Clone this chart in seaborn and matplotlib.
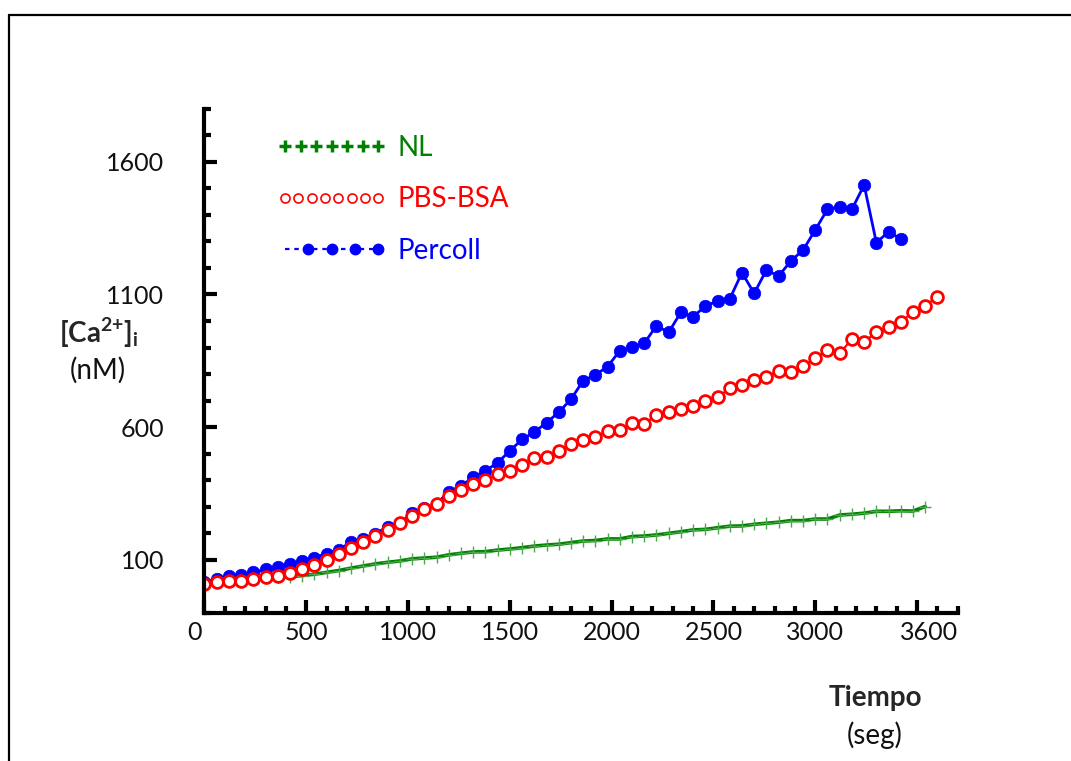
import numpy as np
import pandas as pd
import matplotlib
matplotlib.use("Agg")
import matplotlib.pyplot as plt
import seaborn as sns
from matplotlib.lines import Line2D
from matplotlib.legend_handler import HandlerLine2D
from matplotlib.ticker import FixedLocator, MultipleLocator
from matplotlib.transforms import ScaledTranslation

# sample times (s), one reading per minute
tiempo = [0, 60, 120, 180, 240, 300, 360, 420, 480, 540,
          600, 660, 720, 780, 840, 900, 960, 1020, 1080, 1140,
          1200, 1260, 1320, 1380, 1440, 1500, 1560, 1620, 1680, 1740,
          1800, 1860, 1920, 1980, 2040, 2100, 2160, 2220, 2280, 2340,
          2400, 2460, 2520, 2580, 2640, 2700, 2760, 2820, 2880, 2940,
          3000, 3060, 3120, 3180, 3240, 3300, 3360, 3420, 3480, 3540,
          3600]

# [Ca2+]i (nM)
nl = [12, 16, 20, 23, 27, 31, 34, 36, 41, 46,
      53, 60, 69, 77, 85, 91, 96, 104, 107, 110,
      119, 125, 130, 131, 137, 141, 146, 152, 156, 159,
      165, 171, 173, 179, 179, 188, 190, 194, 200, 206,
      213, 215, 221, 227, 228, 234, 238, 242, 248, 248,
      254, 254, 269, 272, 276, 283, 283, 285, 284, 301]

pbs_bsa = [10, 15, 21, 21, 27, 34, 41, 51, 66, 81,
           100, 122, 144, 166, 190, 212, 240, 266, 292, 311,
           341, 363, 385, 401, 424, 436, 458, 483, 489, 511,
           536, 552, 564, 586, 589, 615, 612, 646, 658, 667,
           680, 700, 713, 746, 759, 778, 790, 812, 807, 832,
           859, 891, 878, 932, 922, 957, 979, 997, 1033, 1058,
           1092]

percoll = [18, 28, 38, 44, 54, 64, 75, 86, 96, 109,
           124, 139, 167, 180, 199, 225, 240, 276, 294, 311,
           357, 379, 411, 436, 466, 511, 554, 581, 617, 656,
           705, 775, 797, 828, 888, 903, 916, 982, 957, 1033,
           1016, 1056, 1075, 1083, 1182, 1104, 1192, 1169, 1226, 1267,
           1343, 1421, 1430, 1421, 1512, 1295, 1336, 1309]

x_ticks = [0, 500, 1000, 1500, 2000, 2500, 3000, 3500]
x_labels = ["0", "500", "1000", "1500", "2000", "2500", "3000", "3600"]
y_ticks = [100, 600, 1100, 1600]

sns.set_style("white")
plt.rcParams["font.family"] = ["Lato", "DejaVu Sans"]
plt.rcParams["mathtext.fontset"] = "custom"
plt.rcParams["mathtext.rm"] = "Lato"
plt.rcParams["mathtext.bf"] = "Lato:bold"

fig = plt.figure(figsize=(10.71, 7.61), dpi=100)
ax = fig.add_axes([0.1909, 0.1945, 0.7034, 0.6628])

green = "#008000"
sns.lineplot(x=tiempo[:len(nl)], y=nl, ax=ax, color=green, lw=2.6,
             marker="+", markersize=8, markeredgewidth=1.0,
             markeredgecolor="#49a849", sort=False, estimator=None, legend=False)
sns.lineplot(x=tiempo[:len(percoll)], y=percoll, ax=ax, color="#0000ff", lw=2.0,
             marker="o", markersize=9, markeredgewidth=0.5,
             markeredgecolor="#0000ff", sort=False, estimator=None, legend=False)
sns.lineplot(x=tiempo[:len(pbs_bsa)], y=pbs_bsa, ax=ax, color="#ff0000", lw=1.5,
             marker="o", markersize=8.5, markeredgewidth=2.0,
             markeredgecolor="#ff0000", markerfacecolor="white",
             sort=False, estimator=None, legend=False)

ax.set_xlim(0, 3700)
ax.set_ylim(-100, 1800)
ax.xaxis.set_major_locator(FixedLocator(x_ticks))
ax.set_xticklabels(x_labels)
ax.xaxis.set_minor_locator(MultipleLocator(100))
ax.yaxis.set_major_locator(FixedLocator(y_ticks))
ax.yaxis.set_minor_locator(MultipleLocator(100))
ax.set_xlabel("")
ax.set_ylabel("")

for side in ["top", "right"]:
    ax.spines[side].set_visible(False)
for side in ["left", "bottom"]:
    ax.spines[side].set_linewidth(3)
    ax.spines[side].set_color("black")

ax.tick_params(axis="both", which="both", bottom=True, left=True, top=False, right=False,
               direction="in", width=3, color="black")
ax.tick_params(axis="both", which="major", length=9.5, labelsize=18, labelcolor="#111111")
ax.tick_params(axis="both", which="minor", length=5)
ax.tick_params(axis="y", which="major", pad=29)
ax.tick_params(axis="x", which="major", pad=6)

# the first and last x labels sit a little off their ticks in the original
labels = ax.get_xticklabels()
labels[0].set_transform(labels[0].get_transform() + ScaledTranslation(-10 / 100, 0, fig.dpi_scale_trans))
labels[-1].set_transform(labels[-1].get_transform() + ScaledTranslation(12 / 100, 0, fig.dpi_scale_trans))


def skip_first_marker(leg_line, orig):
    leg_line.update_from(orig)
    leg_line.set_markevery(slice(1, None))


# legend
h_nl = Line2D([], [], color=green, marker="+", linestyle="none", markersize=9, markeredgewidth=2.5)
h_pbs = Line2D([], [], color="#ff0000", marker="o", markerfacecolor="white", linestyle="none",
               markersize=6.5, markeredgewidth=1.2)
h_per = Line2D([], [], color="#0000ff", marker="o", linestyle=(0, (2, 2.2)), lw=1.6,
               markersize=7.5)
leg = ax.legend([h_nl, h_pbs, h_per], ["NL", "PBS-BSA", "Percoll"],
                handler_map={h_nl: HandlerLine2D(numpoints=7),
                             h_pbs: HandlerLine2D(numpoints=8),
                             h_per: HandlerLine2D(numpoints=5, update_func=skip_first_marker)},
                loc="upper left", bbox_to_anchor=(0.096, 0.948), frameon=False,
                borderpad=0, borderaxespad=0, fontsize=20, handlelength=3.95,
                handletextpad=0.4, labelspacing=0.92)
for txt, c in zip(leg.get_texts(), [green, "#ff0000", "#0000ff"]):
    txt.set_color(c)

# axis titles
fig.text(0.0924, 0.5624, r"$\mathbf{[Ca^{2{+}}]_{i}}$", ha="center", va="center", fontsize=20)
fig.text(0.0915, 0.5138, "(nM)", ha="center", va="center", fontsize=20, color="#111111")
fig.text(0.817, 0.083, "Tiempo", ha="center", va="center", fontsize=20, fontweight="bold")
fig.text(0.817, 0.034, "(seg)", ha="center", va="center", fontsize=20, color="#111111")

# outer frame (only top and left edges are inside the picture)
fig.add_artist(Line2D([9 / 1071, 1], [1 - 15 / 761, 1 - 15 / 761], color="black", lw=1.6,
                      transform=fig.transFigure))
fig.add_artist(Line2D([9 / 1071, 9 / 1071], [0, 1 - 15 / 761], color="black", lw=1.6,
                      transform=fig.transFigure))

fig.savefig("out.png", dpi=100)
